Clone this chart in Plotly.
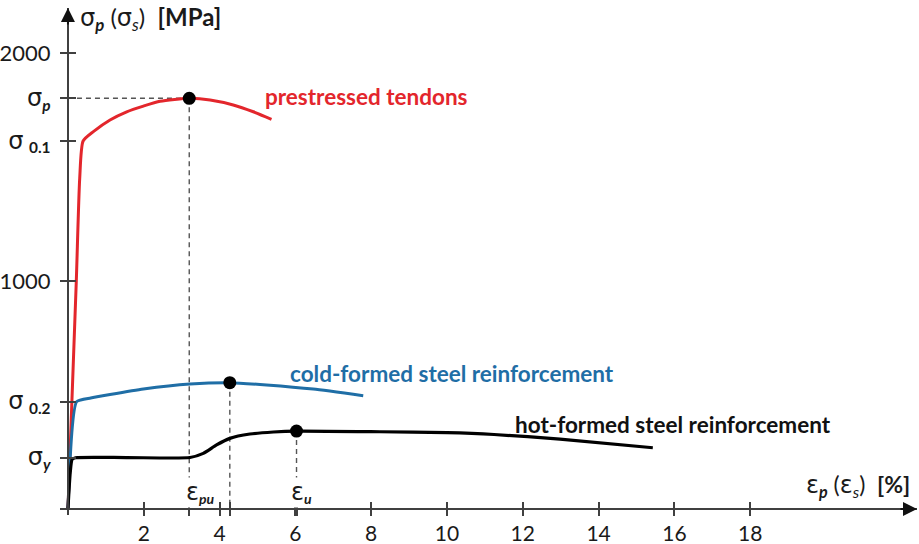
import plotly.graph_objects as go

# ---------------- data ----------------
# prestressed tendons (red)
red_x = [0, 0.22, 0.31, 0.40, 0.67, 1.11, 1.55, 1.99, 2.43, 3.20, 3.75, 4.36, 4.89, 5.37]
red_y = [0, 1000, 1450, 1614, 1655, 1706, 1742, 1767, 1788, 1801, 1794, 1772, 1742, 1709]

# cold-formed steel reinforcement (blue)
blue_x = [0, 0.23, 0.60, 1.11, 1.99, 3.22, 4.27, 5.24, 6.47, 7.79]
blue_y = [0, 471, 487, 502, 526, 548, 554, 544, 526, 497]

# hot-formed steel reinforcement (black)
black_x = [0, 0.06, 0.11, 0.20, 1.55, 3.22, 3.57, 3.92, 4.27, 4.80, 5.42, 6.03, 8.23, 10.0, 11.24, 12.98, 15.43]
black_y = [0, 160, 218, 225, 226, 226, 244, 281, 310, 329, 338, 342, 339, 335, 327, 307, 269]

# characteristic values
sigma_p, sigma_01, sigma_02, sigma_yv = 1801, 1614, 471, 226
eps_pu, eps_cold, eps_u = 3.20, 4.27, 6.03
peak_x = [eps_pu, eps_cold, eps_u]
peak_y = [sigma_p, 554, 342]

GREEK = "<span style='font-family:DejaVu Sans;font-size:24px'>{}</span>"
SIG = GREEK.format("σ")
EPS = GREEK.format("ε")

# tick labels
x_tick_vals = [2, 4, 6, 8, 10, 12, 14, 16, 18]
x_tick_text = ["2", "4", "6", "8", "10", "12", "14", "16", "18"]
x_extra_ticks = [eps_pu, eps_cold, eps_u]
y_tick_vals = [sigma_yv, sigma_02, 1000, sigma_01, sigma_p, 2000]
y_tick_text = [SIG + "<sub><b><i>y</i></b></sub>", SIG + " <sub><b>0.2</b></sub>", "1000",
               SIG + " <sub><b>0.1</b></sub>", SIG + "<sub><b><i>p</i></b></sub>", "2000"]

X_RANGE = [-0.21, 22.4]
Y_RANGE = [-26, 2197]

# ---------------- styling ----------------
FONT = "Lato, 'Noto Sans', sans-serif"
AXIS_COL = "#404040"
DASH_COL = "#555555"
RED = "#E3262C"
BLUE = "#1F6EA6"

fig = go.Figure()

# dashed guide lines
dash = dict(color=DASH_COL, width=1.4, dash="5px,4px")
fig.add_trace(go.Scatter(x=[0, eps_pu], y=[sigma_p, sigma_p], mode="lines", line=dash,
                         hoverinfo="skip", showlegend=False))
for px_, py_ in zip(peak_x, peak_y):
    fig.add_trace(go.Scatter(x=[px_, px_], y=[py_, 0], mode="lines", line=dash,
                             hoverinfo="skip", showlegend=False))

# curves
fig.add_trace(go.Scatter(x=red_x, y=red_y, mode="lines",
                         line=dict(color=RED, width=3, shape="spline", smoothing=0.6),
                         showlegend=False))
fig.add_trace(go.Scatter(x=blue_x, y=blue_y, mode="lines",
                         line=dict(color=BLUE, width=3, shape="spline", smoothing=0.5),
                         showlegend=False))
fig.add_trace(go.Scatter(x=black_x, y=black_y, mode="lines",
                         line=dict(color="#000000", width=3.2, shape="spline", smoothing=0.6),
                         showlegend=False))

# peak markers
fig.add_trace(go.Scatter(x=peak_x, y=peak_y, mode="markers",
                         marker=dict(color="#000000", size=13), showlegend=False))

# dummy trace for the overlay axes (crossing ticks)
fig.add_trace(go.Scatter(x=[None], y=[None], xaxis="x2", yaxis="y2",
                         mode="markers", showlegend=False, hoverinfo="skip"))

pos_x_axis = (0 - Y_RANGE[0]) / (Y_RANGE[1] - Y_RANGE[0])
pos_y_axis = (0 - X_RANGE[0]) / (X_RANGE[1] - X_RANGE[0])

all_x_ticks = x_tick_vals + x_extra_ticks
all_x_text = x_tick_text + [""] * len(x_extra_ticks)

fig.update_layout(
    width=919, height=544,
    margin=dict(l=60, r=2, t=8, b=29),
    paper_bgcolor="white", plot_bgcolor="white",
    font=dict(family=FONT, color="#1a1a1a"),
    xaxis=dict(range=X_RANGE, anchor="free", position=pos_x_axis, automargin=False,
               showline=True, linecolor=AXIS_COL, linewidth=2,
               showgrid=False, zeroline=False,
               ticks="outside", ticklen=6, tickwidth=1.5, tickcolor=AXIS_COL,
               tickmode="array", tickvals=all_x_ticks, ticktext=all_x_text,
               tickfont=dict(size=21, family=FONT, color="#1a1a1a")),
    xaxis2=dict(range=X_RANGE, anchor="free", position=pos_x_axis, overlaying="x", automargin=False,
                showline=False, showgrid=False, zeroline=False,
                ticks="inside", ticklen=7, tickwidth=1.5, tickcolor=AXIS_COL,
                tickmode="array", tickvals=all_x_ticks, showticklabels=False),
    yaxis=dict(range=Y_RANGE, anchor="free", position=pos_y_axis, automargin=False,
               showline=True, linecolor=AXIS_COL, linewidth=2,
               showgrid=False, zeroline=False,
               ticks="outside", ticklen=7, tickwidth=1.5, tickcolor=AXIS_COL,
               ticklabelstandoff=5,
               tickmode="array", tickvals=y_tick_vals, ticktext=y_tick_text,
               tickfont=dict(size=22, family=FONT, color="#1a1a1a")),
    yaxis2=dict(range=Y_RANGE, anchor="free", position=pos_y_axis, overlaying="y", automargin=False,
                showline=False, showgrid=False, zeroline=False,
                ticks="inside", ticklen=7, tickwidth=1.5, tickcolor=AXIS_COL,
                tickmode="array", tickvals=y_tick_vals, showticklabels=False),
)

NB = "\u00a0"
ann = []
# axis arrows
ann.append(dict(x=1, xref="paper", y=0, yref="y", ax=-18, ay=0, text="",
                showarrow=True, arrowhead=2, arrowsize=1.4, arrowwidth=2, arrowcolor="#111111"))
ann.append(dict(x=0, xref="x", y=1, yref="paper", ax=0, ay=18, text="",
                showarrow=True, arrowhead=2, arrowsize=1.4, arrowwidth=2, arrowcolor="#111111"))
# axis titles
ann.append(dict(x=0.26, y=2150, xref="x", yref="y", xanchor="left", yanchor="middle", showarrow=False,
                text=SIG + "<sub><b><i>p</i></b></sub> (" + SIG + "<sub><i>s</i></sub>)" + NB + NB + "<b>[MPa]</b>",
                font=dict(size=24, family=FONT, color="#1a1a1a")))
ann.append(dict(x=22.28, y=105, xref="x", yref="y", xanchor="right", yanchor="middle", showarrow=False,
                text=EPS + "<sub><b><i>p</i></b></sub> (" + EPS + "<sub><i>s</i></sub>)" + NB + NB + "<b>[%]</b>",
                font=dict(size=23, family=FONT, color="#1a1a1a")))
# epsilon labels
ann.append(dict(x=3.09, y=72, xref="x", yref="y", xanchor="left", yanchor="middle", showarrow=False,
                text=EPS + "<sub><b><i>pu</i></b></sub>", bgcolor="white", borderpad=0,
                font=dict(size=20, family=FONT, color="#1a1a1a")))
ann.append(dict(x=5.86, y=72, xref="x", yref="y", xanchor="left", yanchor="middle", showarrow=False,
                text=EPS + "<sub><b><i>u</i></b></sub>", bgcolor="white", borderpad=0,
                font=dict(size=20, family=FONT, color="#1a1a1a")))
# curve labels
ann.append(dict(x=5.15, y=1807, xref="x", yref="y", xanchor="left", yanchor="middle", showarrow=False,
                text="<b>prestressed tendons</b>", font=dict(size=22.5, family=FONT, color=RED)))
ann.append(dict(x=5.80, y=596, xref="x", yref="y", xanchor="left", yanchor="middle", showarrow=False,
                text="<b>cold-formed steel reinforcement</b>", font=dict(size=22.5, family=FONT, color=BLUE)))
ann.append(dict(x=11.74, y=373, xref="x", yref="y", xanchor="left", yanchor="middle", showarrow=False,
                text="<b>hot-formed steel reinforcement</b>", font=dict(size=22.5, family=FONT, color="#111111")))
fig.update_layout(annotations=ann)

fig.write_html("out.html")
